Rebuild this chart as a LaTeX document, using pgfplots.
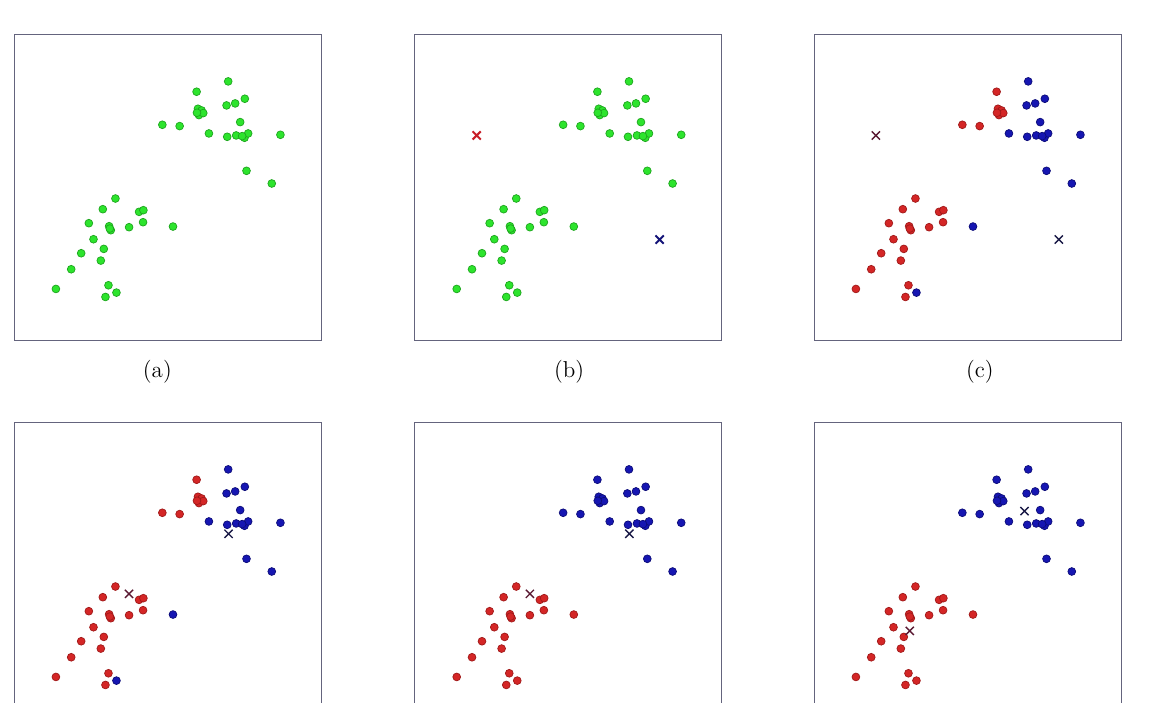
\documentclass[border=0pt]{standalone}
\usepackage{pgfplots}
\usepackage{pgfplotstable}
\pgfplotsset{compat=1.18}

\definecolor{framec}{RGB}{100,100,125}
\definecolor{gfill}{RGB}{45,228,45}
\definecolor{gedge}{RGB}{30,165,30}
\definecolor{rfill}{RGB}{212,38,38}
\definecolor{redge}{RGB}{160,25,25}
\definecolor{bfill}{RGB}{22,22,178}
\definecolor{bedge}{RGB}{12,12,120}
\definecolor{xred}{RGB}{200,30,40}
\definecolor{xblue}{RGB}{20,20,120}
\definecolor{xdred}{RGB}{90,25,50}
\definecolor{xdblue}{RGB}{25,25,70}

% upper cluster, left part
\pgfplotstableread{
x y
561 185
565 236
576 241
568 255
581 249
562 248
458 284
510 288
}\tA
% upper cluster, right part
\pgfplotstableread{
x y
656 154
651 226
677 220
706 206
692 276
598 310
653 320
680 316
705 323
716 310
698 318
813 314
711 422
787 460
}\tB
% lower cluster
\pgfplotstableread{
x y
317 505
279 537
388 545
401 540
237 579
298 588
303 600
300 595
358 591
400 576
251 627
282 656
214 669
273 691
184 717
138 776
296 765
287 800
}\tL
% points that change cluster
\pgfplotstableread{
x y
490 589
320 787
}\tS

\pgfplotsset{
  kmeans/.style={
    width=153.5pt, height=153.5pt, scale only axis,
    xmin=12, xmax=935, ymin=12, ymax=932, y dir=reverse,
    xtick=\empty, ytick=\empty,
    axis line style={draw=framec, line width=0.5pt},
    anchor=north west,
    xlabel style={anchor=center, font=\fontsize{11.5}{14}\selectfont},
  },
  gpts/.style={only marks, mark=*, mark size=1.95pt, mark options={fill=gfill, draw=gedge, line width=0.35pt}},
  rpts/.style={only marks, mark=*, mark size=1.95pt, mark options={fill=rfill, draw=redge, line width=0.35pt}},
  bpts/.style={only marks, mark=*, mark size=1.95pt, mark options={fill=bfill, draw=bedge, line width=0.35pt}},
}

\begin{document}
\begin{tikzpicture}
\useasboundingbox (0,0) rectangle (575pt,-351pt);
\clip (0,0) rectangle (575pt,-351pt);

% (a)
\begin{axis}[kmeans, at={(7pt,-17pt)}, xlabel={(a)},
  xlabel style={at={(axis description cs:0.467,-0.099)}}]
\addplot[gpts] table {\tA};
\addplot[gpts] table {\tB};
\addplot[gpts] table {\tL};
\addplot[gpts] table {\tS};
\end{axis}

% (b)
\begin{axis}[kmeans, at={(207.4pt,-17pt)}, xlabel={(b)},
  xlabel style={at={(axis description cs:0.503,-0.099)}}]
\addplot[gpts] table {\tA};
\addplot[gpts] table {\tB};
\addplot[gpts] table {\tL};
\addplot[gpts] table {\tS};
\addplot[only marks, mark=x, mark size=2.9pt, mark options={draw=xred, line width=1pt}] coordinates {(198,316)};
\addplot[only marks, mark=x, mark size=2.9pt, mark options={draw=xblue, line width=1pt}] coordinates {(748,628)};
\end{axis}

% (c)
\begin{axis}[kmeans, at={(407pt,-17pt)}, xlabel={(c)},
  xlabel style={at={(axis description cs:0.54,-0.099)}}]
\addplot[rpts] table {\tA};
\addplot[bpts] table {\tB};
\addplot[rpts] table {\tL};
\addplot[bpts] table {\tS};
\addplot[only marks, mark=x, mark size=2.9pt, mark options={draw=xdred, line width=0.7pt}] coordinates {(198,316)};
\addplot[only marks, mark=x, mark size=2.9pt, mark options={draw=xdblue, line width=0.7pt}] coordinates {(748,628)};
\end{axis}

% (d)
\begin{axis}[kmeans, at={(7pt,-211pt)}]
\addplot[rpts] table {\tA};
\addplot[bpts] table {\tB};
\addplot[rpts] table {\tL};
\addplot[bpts] table {\tS};
\addplot[only marks, mark=x, mark size=2.9pt, mark options={draw=xdred, line width=0.7pt}] coordinates {(358,527)};
\addplot[only marks, mark=x, mark size=2.9pt, mark options={draw=xdblue, line width=0.7pt}] coordinates {(657,347)};
\end{axis}

% (e)
\begin{axis}[kmeans, at={(207.4pt,-211pt)}]
\addplot[bpts] table {\tA};
\addplot[bpts] table {\tB};
\addplot[rpts] table {\tL};
\addplot[rpts] table {\tS};
\addplot[only marks, mark=x, mark size=2.9pt, mark options={draw=xdred, line width=0.7pt}] coordinates {(358,527)};
\addplot[only marks, mark=x, mark size=2.9pt, mark options={draw=xdblue, line width=0.7pt}] coordinates {(657,347)};
\end{axis}

% (f)
\begin{axis}[kmeans, at={(407pt,-211pt)}]
\addplot[bpts] table {\tA};
\addplot[bpts] table {\tB};
\addplot[rpts] table {\tL};
\addplot[rpts] table {\tS};
\addplot[only marks, mark=x, mark size=2.9pt, mark options={draw=xdred, line width=0.7pt}] coordinates {(300,638)};
\addplot[only marks, mark=x, mark size=2.9pt, mark options={draw=xdblue, line width=0.7pt}] coordinates {(645,279)};
\end{axis}
\end{tikzpicture}
\end{document}
